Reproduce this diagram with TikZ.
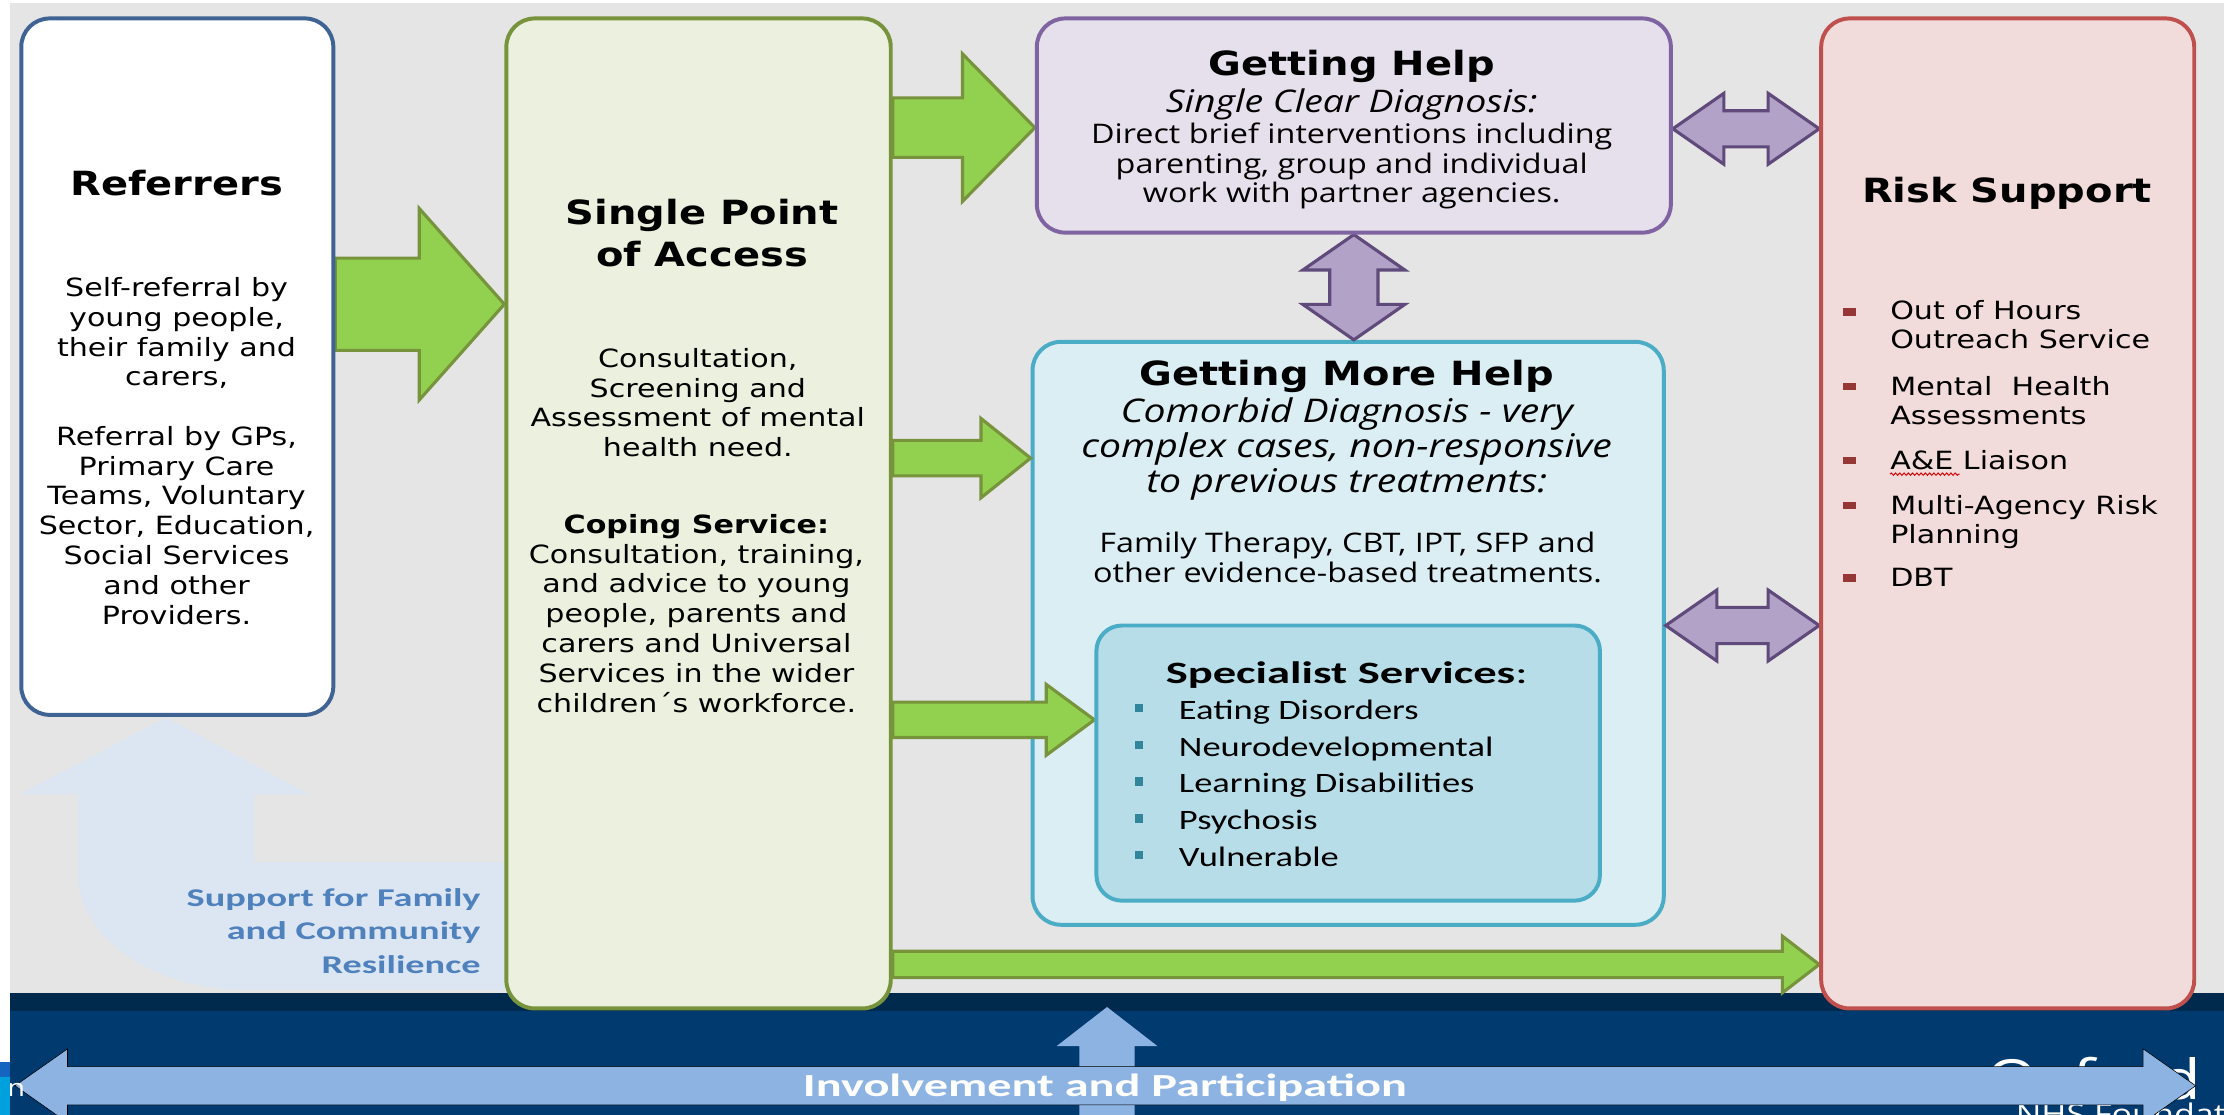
\documentclass[tikz,border=0pt]{standalone}
\usepackage{fontspec}
\setmainfont[FakeStretch=1.2]{DejaVu Sans}
\newfontfamily\segoe[FakeStretch=1.2]{Open Sans}
\newfontfamily\calib[FakeStretch=1.3]{Carlito}
\newfontfamily\calibw[FakeStretch=1.5]{Carlito}
\usetikzlibrary{calc,decorations.pathmorphing}

\definecolor{bggray}{HTML}{E5E5E5}
\definecolor{navy}{HTML}{003A6F}
\definecolor{navydark}{HTML}{002A4D}
\definecolor{refline}{HTML}{3F6494}
\definecolor{spafill}{HTML}{EBF1DE}
\definecolor{spaline}{HTML}{77933C}
\definecolor{helpfill}{HTML}{E5E0EC}
\definecolor{helpline}{HTML}{8064A2}
\definecolor{morefill}{HTML}{DBEEF4}
\definecolor{moreline}{HTML}{4BACC6}
\definecolor{specfill}{HTML}{B7DEE8}
\definecolor{riskfill}{HTML}{F2DCDB}
\definecolor{riskline}{HTML}{C0504D}
\definecolor{greenfill}{HTML}{92D050}
\definecolor{purplefill}{HTML}{B3A2C7}
\definecolor{purpleline}{HTML}{604A7B}
\definecolor{palefill}{HTML}{DCE6F2}
\definecolor{paletext}{HTML}{4F81BD}
\definecolor{ipblue}{HTML}{8DB3E2}
\definecolor{bulletteal}{HTML}{31859C}
\definecolor{bulletred}{HTML}{953735}
\definecolor{edgeblue}{HTML}{1565C0}
\definecolor{edgecyan}{HTML}{00A0DC}

\newcommand\ttlfont{\fontsize{23.5}{30}\selectfont\bfseries}
\newcommand\bdyfont{\fontsize{17.7}{21}\selectfont}

% block arrows: style, from, to, shaft half, head half, head length
\newcommand{\hblock}[6]{\draw[#1] ($(#2)+(0,-#4)$) -- ($(#3)+(-#6,-#4)$) -- ($(#3)+(-#6,-#5)$) -- (#3)
  -- ($(#3)+(-#6,#5)$) -- ($(#3)+(-#6,#4)$) -- ($(#2)+(0,#4)$) -- cycle;}
\newcommand{\hdblock}[6]{\draw[#1] (#2) -- ($(#2)+(#6,-#5)$) -- ($(#2)+(#6,-#4)$) -- ($(#3)+(-#6,-#4)$)
  -- ($(#3)+(-#6,-#5)$) -- (#3) -- ($(#3)+(-#6,#5)$) -- ($(#3)+(-#6,#4)$) -- ($(#2)+(#6,#4)$)
  -- ($(#2)+(#6,#5)$) -- cycle;}
\newcommand{\vdblock}[6]{\draw[#1] (#2) -- ($(#2)+(#5,#6)$) -- ($(#2)+(#4,#6)$) -- ($(#3)+(#4,-#6)$)
  -- ($(#3)+(#5,-#6)$) -- (#3) -- ($(#3)+(-#5,-#6)$) -- ($(#3)+(-#4,-#6)$) -- ($(#2)+(-#4,#6)$)
  -- ($(#2)+(-#5,#6)$) -- cycle;}

\pgfdeclarelayer{backdrop}
\pgfdeclarelayer{links}
\pgfsetlayers{backdrop,links,main}

\begin{document}
\begin{tikzpicture}[x=1pt,y=-1pt,
    box/.style={draw, rounded corners=20pt, line width=2.8pt, inner sep=0pt},
    boxtitle/.style={font=\ttlfont, align=center, anchor=base, inner sep=0pt},
    boxbody/.style={font=\bdyfont, align=center, anchor=base, inner sep=0pt},
    segbody/.style={font=\segoe\fontsize{19}{21}\selectfont, align=center, anchor=base, inner sep=0pt},
    segital/.style={font=\segoe\itshape\fontsize{22}{24.5}\selectfont, align=center, anchor=base, inner sep=0pt},
    riskitem/.style={font=\fontsize{17.7}{20.4}\selectfont, align=left, anchor=base west, inner sep=0pt},
    specitem/.style={font=\calib\fontsize{19.8}{24}\selectfont, anchor=base west, inner sep=0pt},
    garrow/.style={fill=greenfill, draw=spaline, line width=2.2pt},
    parrow/.style={fill=purplefill, draw=purpleline, line width=2.2pt},
    iparrow/.style={fill=ipblue}
  ]
  \useasboundingbox (0,0) rectangle (1568,786);
  \clip (0,0) rectangle (1568,786);

  % background, footer band, family support arrow and the outer help box
  \begin{pgfonlayer}{backdrop}
    \fill[white] (0,0) rectangle (1568,786);
    \fill[bggray] (7,2) rectangle (1568,700);
    \fill[navydark] (7,700) rectangle (1568,713);
    \fill[navy] (7,713) rectangle (1568,786);
    \coordinate (suptip) at (117,506);
    \fill[palefill] (suptip) -- (218,560) -- (179,560) -- (179,608) -- (370,608) -- (370,698) -- (174,698)
      .. controls (108,698) and (55,661) .. (55,616) -- (55,560) -- (14,560) -- cycle;
    \node[box, draw=moreline, fill=morefill, minimum width=445pt, minimum height=411pt] (more) at (950.5,446.5) {};
  \end{pgfonlayer}

  % service boxes
  \node[box, draw=refline, fill=white, minimum width=220pt, minimum height=491pt] (ref) at (125,258.5) {};
  \node[box, draw=spaline, fill=spafill, minimum width=271pt, minimum height=698pt] (spa) at (492.5,362) {};
  \node[box, draw=helpline, fill=helpfill, minimum width=447pt, minimum height=151pt] (help) at (954.5,88.5) {};
  \node[box, draw=moreline, fill=specfill, rounded corners=18pt, minimum width=355pt, minimum height=194pt] (spec) at (950.5,538) {};
  \node[box, draw=riskline, fill=riskfill, minimum width=263pt, minimum height=698pt] (risk) at (1415.5,362) {};

  % texts (multi-line nodes sit on the baseline of their last line)
  \node[boxtitle] (reftitle) at (124.5,138) {Referrers};
  \node[boxbody] (refbody) at (124.5,440) {Self-referral by\\young people,\\their family and\\carers,\\[21pt]Referral by GPs,\\Primary Care\\Teams, Voluntary\\Sector, Education,\\Social Services\\and other\\Providers.};

  \node[boxtitle] (spatitle) at (495,188) {Single Point\\of Access};
  \node[boxbody] (spabody) at (492,322) {Consultation,\\Screening and\\Assessment of mental\\health need.};
  \node[boxbody] (copebody) at (491,502) {\textbf{Coping Service:}\\Consultation, training,\\and advice to young\\people, parents and\\carers and Universal\\Services in the wider\\children´s workforce.};

  \node[boxtitle] (helptitle) at (953,53) {Getting Help};
  \node[segital] (helpsub) at (953,79) {Single Clear Diagnosis:};
  \node[segbody] (helpbody) at (953,143) {Direct brief interventions including\\parenting, group and individual\\work with partner agencies.};

  \node[boxtitle] (moretitle) at (949.5,272) {Getting More Help};
  \node[segital, font=\segoe\itshape\fontsize{23}{24.5}\selectfont] (moresub) at (949.5,347) {Comorbid Diagnosis - very\\complex cases, non-responsive\\to previous treatments:};
  \node[segbody] (morebody) at (950,410.5) {Family Therapy, CBT, IPT, SFP and\\other evidence-based treatments.};

  \node[font=\calibw\fontsize{21.9}{24}\selectfont, anchor=base, inner sep=0pt] (spectitle) at (949.5,482) {\textbf{Specialist Services}:};
  \foreach \txt [count=\i] in {Eating Disorders, Neurodevelopmental, Learning Disabilities, Psychosis, Vulnerable} {
    \fill[bulletteal] (800,{470.3+25.9*\i}) rectangle (806,{476.3+25.9*\i});
    \node[specitem] (spec-\i) at (831,{481.3+25.9*\i}) {\txt};
  }

  \node[boxtitle] (risktitle) at (1415,143) {Risk Support};
  \foreach \yy/\by/\txt [count=\i] in {220/246/{Out of Hours\\Outreach Service}, 272.6/299/{Mental\ \ Health\\Assessments},
      324.8/330.8/{A\&E Liaison}, 356.6/383/{Multi-Agency Risk\\Planning}, 407.5/413.5/DBT} {
    \fill[bulletred] (1299.5,\yy-2.5) rectangle (1308.5,\yy+2.5);
    \node[riskitem] (riskitem-\i) at (1332.5,\by) {\txt};
  }
  \draw[red!85!black, line width=0.7pt, decorate, decoration={snake, amplitude=0.8pt, segment length=3pt}]
    ($(riskitem-3.base west)+(0,3.5)$) -- ++(49,0);

  \node[font=\calibw\bfseries\fontsize{18}{23.5}\selectfont, text=paletext, align=right, anchor=base east, inner sep=0pt] (suptext) at (339,686) {Support for Family\\and Community\\Resilience};

  % arrows between the boxes
  \begin{pgfonlayer}{links}
    \coordinate (g1s) at (ref.east |- 0,214.5);  \coordinate (g1e) at (spa.west |- 0,214.5);
    \coordinate (g2s) at (spa.east |- 0,90);     \coordinate (g2e) at (help.west |- 0,90);
    \coordinate (g3s) at (spa.east |- 0,323);    \coordinate (g3e) at (more.west |- 0,323);
    \coordinate (g4s) at (spa.east |- 0,507.5);  \coordinate (g4e) at (spec.west |- 0,507.5);
    \coordinate (g5s) at (spa.east |- 0,680);    \coordinate (g5e) at (risk.west |- 0,680);
    \hblock{garrow}{g1s}{g1e}{32.5}{67.5}{60}
    \hblock{garrow}{g2s}{g2e}{21}{52}{51}
    \hblock{garrow}{g3s}{g3e}{12.5}{28}{35}
    \hblock{garrow}{g4s}{g4e}{12.5}{25}{34}
    \hblock{garrow}{g5s}{g5e}{9.3}{20}{26}
    \coordinate (p1l) at (help.east |- 0,90.8);  \coordinate (p1r) at (risk.west |- 0,90.8);
    \coordinate (p2l) at (more.east |- 0,441);   \coordinate (p2r) at (risk.west |- 0,441);
    \hdblock{parrow}{p1l}{p1r}{12.75}{25}{36}
    \hdblock{parrow}{p2l}{p2r}{12.75}{25}{36}
    \vdblock{parrow}{help.south}{help.south |- more.north}{17}{36}{25}
  \end{pgfonlayer}

  % footer: involvement and participation
  \node[font=\segoe\fontsize{39}{39}\selectfont, text=white, anchor=base west, inner sep=0pt] (oxford) at (1400,775) {Oxford Health};
  \node[font=\segoe\fontsize{20}{20}\selectfont, text=white, anchor=base west, inner sep=0pt] (nhs) at (1421,793) {NHS Foundation Trust};
  \coordinate (uptip) at (780.5,710);
  \fill[iparrow] (uptip) -- (816,737.5) -- (800,737.5) -- (800,790) -- (761,790) -- (761,737.5) -- (745,737.5) -- cycle;
  \coordinate (ipl) at (10.6,765.5);
  \coordinate (ipr) at (1548,765.5);
  \hdblock{iparrow}{ipl}{ipr}{13.5}{26}{37}
  \node[font=\calibw\bfseries\fontsize{22.7}{24}\selectfont, text=white, anchor=base, inner sep=0pt] (iptext) at (779,773) {Involvement and Participation};
  \node[font=\segoe\fontsize{17}{17}\selectfont, text=white, anchor=base west, inner sep=0pt] (frag) at (5,773) {n};
  \fill[white] (0,0) rectangle (7,749);
  \fill[edgeblue] (0,749) rectangle (7,759);
  \fill[edgecyan] (0,759) rectangle (7,786);
\end{tikzpicture}
\end{document}
